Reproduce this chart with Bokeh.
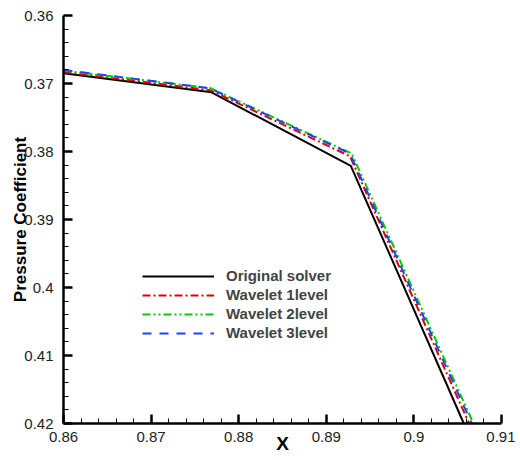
from bokeh.plotting import figure
from bokeh.models import Range1d, FixedTicker, Legend, LegendItem
from bokeh.embed import file_html
from bokeh.resources import INLINE

# ---- data ----
x_ticks = [0.86, 0.87, 0.88, 0.89, 0.90, 0.91]
x_tick_labels = ["0.86", "0.87", "0.88", "0.89", "0.9", "0.91"]
y_ticks = [0.36, 0.37, 0.38, 0.39, 0.40, 0.41, 0.42]
y_tick_labels = ["0.36", "0.37", "0.38", "0.39", "0.4", "0.41", "0.42"]

orig_x = [0.860, 0.8769, 0.8928, 0.9057]
orig_y = [0.3685, 0.3713, 0.3821, 0.4200]

w1_x = [0.860, 0.8768, 0.8927, 0.9063]
w1_y = [0.3683, 0.3710, 0.3807, 0.4200]

w2_x = [0.860, 0.8768, 0.8929, 0.9068]
w2_y = [0.3681, 0.3707, 0.3803, 0.4200]

w3_x = [0.860, 0.8767, 0.8927, 0.9066]
w3_y = [0.3680, 0.3707, 0.3803, 0.4200]

series_names = ["Original solver", "Wavelet 1level", "Wavelet 2level", "Wavelet 3level"]

# ---- figure ----
FONT = "Liberation Sans"
p = figure(width=515, height=456,
           x_range=Range1d(0.86, 0.91), y_range=Range1d(0.42, 0.36),
           output_backend="svg", toolbar_location=None,
           min_border_left=63, min_border_right=14,
           min_border_top=15, min_border_bottom=33)
p.xgrid.visible = False
p.ygrid.visible = False
p.outline_line_color = None
p.background_fill_color = "white"
p.border_fill_color = "white"

x_minor = [round(a + k * 0.002, 4) for a in x_ticks[:-1] for k in range(1, 5)]
y_minor = [round(a + k * 0.002, 4) for a in y_ticks[:-1] for k in range(1, 5)]

for ax, ticks, minor, labels in ((p.xaxis[0], x_ticks, x_minor, x_tick_labels),
                                 (p.yaxis[0], y_ticks, y_minor, y_tick_labels)):
    ax.ticker = FixedTicker(ticks=ticks, minor_ticks=minor)
    ax.major_label_overrides = {t: l for t, l in zip(ticks, labels)}
    ax.axis_line_width = 2.5
    ax.axis_line_color = "black"
    ax.major_tick_line_width = 2.5
    ax.major_tick_line_color = "black"
    ax.minor_tick_line_width = 1
    ax.minor_tick_line_color = "black"
    ax.major_tick_in = 9
    ax.major_tick_out = 0
    ax.minor_tick_in = 5
    ax.minor_tick_out = 0
    ax.major_label_text_font = FONT
    ax.major_label_text_font_size = "15px"
    ax.major_label_text_color = "#222222"
    ax.axis_label_text_font = FONT
    ax.axis_label_text_font_style = "bold"
    ax.axis_label_text_color = "black"

p.xaxis.axis_label = "X"
p.xaxis.axis_label_text_font_size = "19px"
p.xaxis.major_label_standoff = 8
p.xaxis.axis_label_standoff = -12
p.yaxis.axis_label = "Pressure Coefficient"
p.yaxis.axis_label_text_font_size = "17px"
p.yaxis.major_label_standoff = 10
p.yaxis.axis_label_standoff = -9

r0 = p.line(orig_x, orig_y, line_color="black", line_width=2)
r1 = p.line(w1_x, w1_y, line_color="#e00000", line_width=2, line_dash="8 3 2 3")
r2 = p.line(w2_x, w2_y, line_color="#00cc00", line_width=2, line_dash="8 3 2 3 2 3")
r3 = p.line(w3_x, w3_y, line_color="#2040ff", line_width=2, line_dash="9 8")

legend = Legend(items=[LegendItem(label=n, renderers=[r])
                       for n, r in zip(series_names, [r0, r1, r2, r3])],
                location=(79, 82), padding=0, margin=0, spacing=2,
                glyph_width=72, glyph_height=12, label_height=12,
                label_standoff=12,
                label_text_font=FONT, label_text_font_style="bold",
                label_text_font_size="15px",
                border_line_alpha=0, background_fill_alpha=0)
p.add_layout(legend)

open("out.html", "w").write(file_html(p, INLINE))
